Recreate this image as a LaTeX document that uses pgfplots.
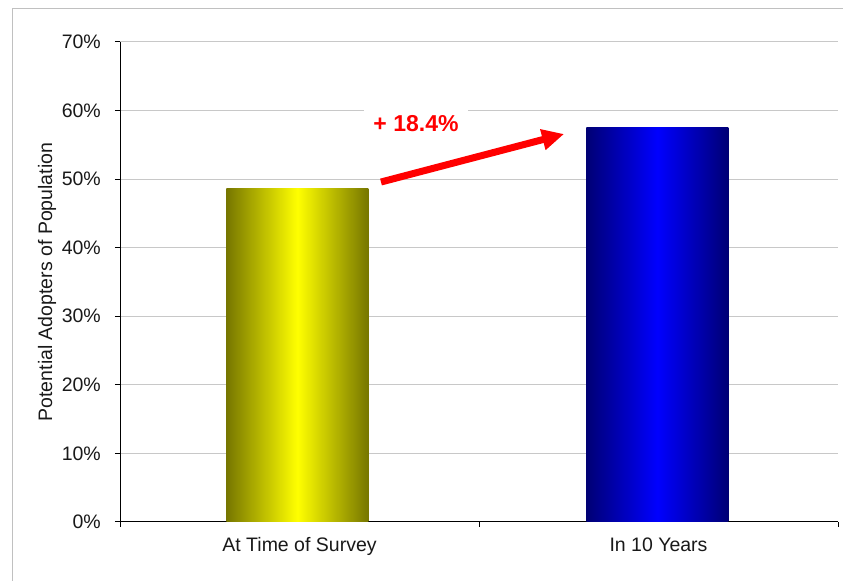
\documentclass[border=0pt]{standalone}
\usepackage{pgfplots}
\pgfplotsset{compat=1.18}
\usepackage{fontspec}
\setmainfont{Liberation Sans}
\usetikzlibrary{arrows.meta}
\definecolor{gridc}{HTML}{C8C8C8}
\definecolor{framec}{HTML}{C0C0C0}
\definecolor{olivec}{HTML}{767600}
\definecolor{yellowc}{HTML}{FFFF00}
\definecolor{navyc}{HTML}{000074}
\definecolor{bluec}{HTML}{0000FF}
\begin{document}
\begin{tikzpicture}
\useasboundingbox (0,0) rectangle (843bp,581bp);
\draw[color=framec, line width=1bp] (12bp,0) -- (12bp,572bp) -- (843bp,572bp);
\begin{axis}[
  at={(120bp,59bp)}, anchor=south west,
  scale only axis, width=718bp, height=480bp,
  xmin=0, xmax=2, ymin=0, ymax=70,
  axis lines*=left,
  axis line style={black, line width=1bp},
  tick align=outside,
  major tick length=5bp,
  tick style={black, line width=1bp},
  ytick={0,10,20,30,40,50,60,70},
  yticklabel={\pgfmathprintnumber{\tick}\%},
  /pgf/number format/assume math mode=true,
  xtick={0,1,2},
  xticklabels={},
  extra x ticks={0.5,1.5},
  extra x tick labels={At Time of Survey, In 10 Years},
  extra x tick style={major tick length=0pt, xticklabel style={anchor=base, inner sep=0pt, yshift=-30bp}},
  ymajorgrids,
  grid style={gridc, line width=1bp},
  tick label style={font=\fontsize{19.5bp}{23bp}\selectfont, text=black!90},
  yticklabel style={anchor=east, inner sep=0pt, xshift=-14bp},
  ylabel={Potential Adopters of Population},
  every axis y label/.style={at={(axis description cs:-0.1017,0.5)}, rotate=90, anchor=center, font=\fontsize{19.5bp}{23bp}\selectfont, text=black!90},
]
\addplot[ybar, bar width=142bp, bar shift=0pt, draw=none, left color=olivec, right color=olivec, middle color=yellowc] coordinates {(0.494,48.7)};
\addplot[ybar, bar width=142bp, bar shift=0pt, draw=none, left color=navyc, right color=navyc, middle color=bluec] coordinates {(1.497,57.5)};
\node[font=\bfseries\fontsize{23bp}{27bp}\selectfont, text=red, fill=white, inner xsep=9.5bp, inner ysep=8bp, anchor=base] at (axis cs:0.8245,56.875) {+ 18.4\%};
\draw[red, line width=7bp, -{Triangle[length=22bp,width=20bp]}] (axis cs:0.727,49.58) -- (axis cs:1.237,56.58);
\end{axis}
\end{tikzpicture}
\end{document}
